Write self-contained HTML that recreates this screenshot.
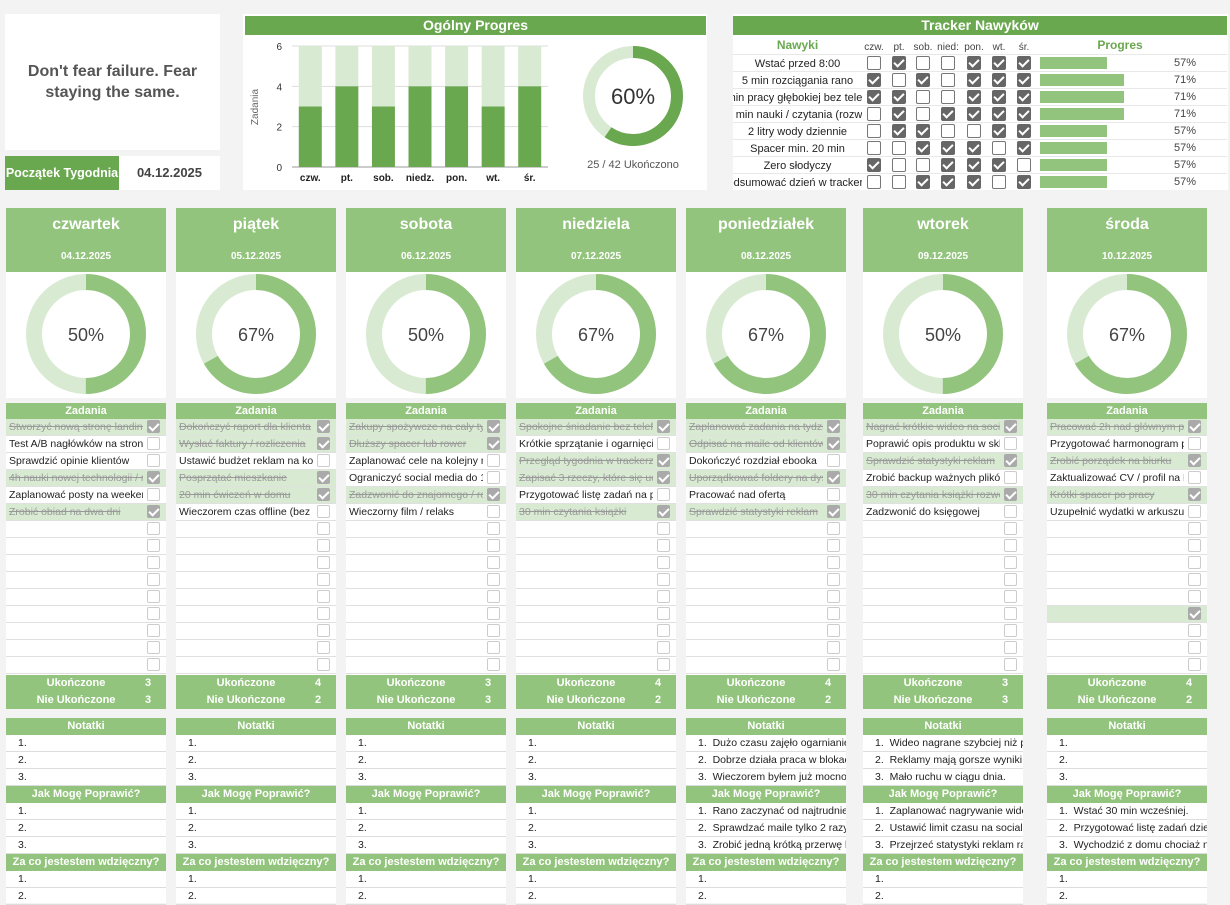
<!DOCTYPE html>
<html><head><meta charset="utf-8">
<style>
*{box-sizing:border-box}
body{margin:0;width:1230px;height:903px;background:#f3f3f3;position:relative;overflow:hidden;font-family:"Liberation Sans",Arial,sans-serif;color:#333}
.a{position:absolute}
.hdr{background:#6aa84f;color:#fff;font-weight:bold;font-size:14px;text-align:center;line-height:19px}
.lg{background:#93c47d;color:#fff;font-weight:bold;text-align:center}
.cell{display:flex;justify-content:center;align-items:center;overflow:hidden;white-space:nowrap}
.cb{position:absolute;width:14px;height:14px;border:1.5px solid #777;border-radius:2px;background:#fff}
.cb.on{background:#666;border-color:#666}
.cb.on::after{content:"";position:absolute;left:3px;top:0px;width:4px;height:8px;border:solid #fff;border-width:0 2px 2px 0;transform:rotate(45deg)}
.tcb{position:absolute;width:14px;height:14px;border:1.5px solid #ccc;border-radius:2px;background:#fff}
.tcb.on{background:#aaa;border-color:#aaa}
.tcb.on::after{content:"";position:absolute;left:3px;top:0px;width:4px;height:8px;border:solid #fff;border-width:0 2px 2px 0;transform:rotate(45deg)}
</style></head>
<body>

<div class="a" style="left:5px;top:14px;width:215px;height:136px;background:#fff;display:flex;align-items:center;justify-content:center;text-align:center;font-weight:bold;font-size:16px;color:#555;line-height:21px">Don't fear failure. Fear<br>staying the same.</div>
<div class="a" style="left:5px;top:156px;width:114px;height:34px;background:#6aa84f;color:#fff;font-weight:bold;font-size:12.5px;line-height:34px;text-align:center;white-space:nowrap;overflow:hidden">Początek Tygodnia</div>
<div class="a" style="left:119px;top:156px;width:101px;height:34px;background:#fff;color:#444;font-weight:bold;font-size:13px;line-height:34px;text-align:center">04.12.2025</div>

<div class="a" style="left:243px;top:14px;width:464px;height:176px;background:#fff"></div>
<div class="a hdr" style="left:245px;top:16px;width:461px;height:19px">Ogólny Progres</div>
<svg class="a" id="topchart" style="left:0;top:0" width="720" height="195"></svg>

<div class="a" style="left:733px;top:14px;width:495px;height:176px;background:#fff"></div>
<div class="a hdr" style="left:733px;top:16px;width:494px;height:19px">Tracker Nawyków</div>
<div id="tracker"></div>
<div id="days"></div>

<script>
// ---- overall chart data ----
const barDays=["czw.","pt.","sob.","niedz.","pon.","wt.","śr."];
const doneCounts=[3,4,3,4,4,3,4];
const totalCounts=[6,6,6,6,6,6,6];
const yTicks=[0,2,4,6];
const overallDone=25;
const overallTotal=42;

// ---- habit tracker data ----
const habitNames=["Wstać przed 8:00","5 min rozciągania rano","90 min pracy głębokiej bez telefonu","30 min nauki / czytania (rozwój)","2 litry wody dziennie","Spacer min. 20 min","Zero słodyczy","Podsumować dzień w trackerze"];
const habitDays=["czw.","pt.","sob.","nied:","pon.","wt.","śr."];
const habitChecks=[[0,1,0,0,1,1,1],[1,0,1,0,1,1,1],[1,1,0,0,1,1,1],[0,1,0,1,1,1,1],[0,1,1,0,0,1,1],[0,0,1,1,1,0,1],[1,0,0,1,1,1,0],[0,0,1,1,1,0,1]];

// ---- day data ----
const dayNames=["czwartek","piątek","sobota","niedziela","poniedziałek","wtorek","środa"];
const dayDates=["04.12.2025","05.12.2025","06.12.2025","07.12.2025","08.12.2025","09.12.2025","10.12.2025"];
const dayTasks=[
["Stworzyć nową stronę landing page","Test A/B nagłówków na stronie","Sprawdzić opinie klientów","4h nauki nowej technologii / narzędzia","Zaplanować posty na weekend","Zrobić obiad na dwa dni"],
["Dokończyć raport dla klienta","Wysłać faktury / rozliczenia","Ustawić budżet reklam na kolejny tydzień","Posprzątać mieszkanie","20 min ćwiczeń w domu","Wieczorem czas offline (bez telefonu)"],
["Zakupy spożywcze na cały tydzień","Dłuższy spacer lub rower","Zaplanować cele na kolejny miesiąc","Ograniczyć social media do 1h","Zadzwonić do znajomego / rodziny","Wieczorny film / relaks"],
["Spokojne śniadanie bez telefonu","Krótkie sprzątanie i ogarnięcie mieszkania","Przegląd tygodnia w trackerze","Zapisać 3 rzeczy, które się udały","Przygotować listę zadań na poniedziałek","30 min czytania książki"],
["Zaplanować zadania na tydzień","Odpisać na maile od klientów","Dokończyć rozdział ebooka","Uporządkować foldery na dysku","Pracować nad ofertą","Sprawdzić statystyki reklam"],
["Nagrać krótkie wideo na social media","Poprawić opis produktu w sklepie","Sprawdzić statystyki reklam","Zrobić backup ważnych plików","30 min czytania książki rozwojowej","Zadzwonić do księgowej"],
["Pracować 2h nad głównym projektem","Przygotować harmonogram postów","Zrobić porządek na biurku","Zaktualizować CV / profil na LinkedIn","Krótki spacer po pracy","Uzupełnić wydatki w arkuszu finansowym"]];
const dayDone=[
[1,0,0,1,0,1,0,0,0,0,0,0,0,0,0],
[1,1,0,1,1,0,0,0,0,0,0,0,0,0,0],
[1,1,0,0,1,0,0,0,0,0,0,0,0,0,0],
[1,0,1,1,0,1,0,0,0,0,0,0,0,0,0],
[1,1,0,1,0,1,0,0,0,0,0,0,0,0,0],
[1,0,1,0,1,0,0,0,0,0,0,0,0,0,0],
[1,0,1,0,1,0,0,0,0,0,0,1,0,0,0]];
const dayCompleted=[3,4,3,4,4,3,4];
const dayNotCompleted=[3,2,3,2,2,3,2];
const dayNotes=[[],[],[],[],
["Dużo czasu zajęło ogarnianie maili","Dobrze działa praca w blokach","Wieczorem byłem już mocno zmęczony"],
["Wideo nagrane szybciej niż planowałem","Reklamy mają gorsze wyniki niż zwykle","Mało ruchu w ciągu dnia."],[]];
const dayImprove=[[],[],[],[],
["Rano zaczynać od najtrudniejszego","Sprawdzać maile tylko 2 razy dziennie","Zrobić jedną krótką przerwę bez ekranu"],
["Zaplanować nagrywanie wideo rano","Ustawić limit czasu na social media","Przejrzeć statystyki reklam raz dziennie"],
["Wstać 30 min wcześniej.","Przygotować listę zadań dzień wcześniej","Wychodzić z domu chociaż na 20 min"]];

const NS="http://www.w3.org/2000/svg";
const svg=document.getElementById('topchart');
function s(tag,attrs){const e=document.createElementNS(NS,tag);for(const k in attrs)e.setAttribute(k,attrs[k]);svg.appendChild(e);return e;}

const px0=292,px1=548,py0=167,py1=46,yMax=6;
const band=(px1-px0)/barDays.length;
const yS=v=>py0-(v/yMax)*(py0-py1);
const xC=i=>px0+band*(i+0.5);
yTicks.forEach(t=>{
  const g=s('line',{x1:px0,x2:px1,y1:yS(t),y2:yS(t),stroke:t===0?'#999':'#ddd','stroke-width':1});
  
  
  const tx=s('text',{x:px0-10,y:yS(t)+4,'font-size':10,'text-anchor':'end',fill:'#333'});
  tx.textContent=t;
  
  
});
const yt=s('text',{x:258,y:107,'font-size':10,fill:'#666','text-anchor':'middle',transform:'rotate(-90 258 107)'});
yt.textContent='Zadania';


barDays.forEach((d,i)=>{
  const bw=23;
  const bt=s('rect',{x:xC(i)-bw/2,y:yS(totalCounts[i]),width:bw,height:yS(doneCounts[i])-yS(totalCounts[i]),fill:'#d9ead3'});
  
  
  const bd=s('rect',{x:xC(i)-bw/2,y:yS(doneCounts[i]),width:bw,height:py0-yS(doneCounts[i]),fill:'#6aa84f'});
  
  
  const lb=s('text',{x:xC(i),y:181,'font-size':10,'text-anchor':'middle',fill:'#222','font-weight':'bold'});
  lb.textContent=d;
  
  
});
(function(){
  const cx=633,cy=96,r=44,w=12,C=2*Math.PI*r,f=overallDone/overallTotal;
  const bg=s('circle',{cx,cy,r,fill:'none',stroke:'#d9ead3','stroke-width':w});
  
  
  const fg=s('circle',{cx,cy,r,fill:'none',stroke:'#6aa84f','stroke-width':w,'stroke-dasharray':(C*f)+' '+C,transform:`rotate(-90 ${cx} ${cy})`});
  
  
  const t=s('text',{x:cx,y:cy+8,'font-size':22,'text-anchor':'middle',fill:'#333'});
  t.textContent=Math.round(f*100)+'%';
  
  
  const t2=s('text',{x:cx,y:168,'font-size':11,'text-anchor':'middle',fill:'#555'});
  t2.textContent=overallDone+' / '+overallTotal+' Ukończono';
  
  
})();

const tr=document.getElementById('tracker');
function d(parent,css,cls){const e=document.createElement('div');e.className='a '+(cls||'');e.style.cssText=css;parent.appendChild(e);return e;}
const hCols=[874,899,923,948,974,999,1024];
let e=d(tr,'left:733px;top:36px;width:129px;height:18px;color:#6aa84f;font-weight:bold;font-size:12px','cell');
e.textContent='Nawyki';


habitDays.forEach((h,j)=>{
  const c=d(tr,`left:${hCols[j]-12}px;top:39px;width:24px;height:16px;font-size:10px;color:#444`,'cell');
  c.textContent=h;
  
  
});
e=d(tr,'left:1040px;top:36px;width:160px;height:18px;color:#6aa84f;font-weight:bold;font-size:12px','cell');
e.textContent='Progres';


habitNames.forEach((n,i)=>{
  const y=55+i*17;
  const line=d(tr,`left:733px;top:${y-1}px;width:494px;height:1px;background:#e8e8e8`);
  
  
  const nm=d(tr,`left:733px;top:${y}px;width:129px;height:17px;font-size:11px;color:#222`,'cell');
  nm.textContent=n;
  
  
  let cnt=0;
  habitChecks[i].forEach((v,j)=>{
    cnt+=v;
    const cb=d(tr,`left:${hCols[j]-7}px;top:${y+1}px`,'cb'+(v?' on':''));
    
    
  });
  const p=cnt/habitChecks[i].length;
  const bar=d(tr,`left:1040px;top:${y+2}px;width:${118*p}px;height:12px;background:#93c47d`);
  
  
  const pt=d(tr,`left:1160px;top:${y}px;width:36px;height:17px;font-size:11px;color:#444;text-align:right;line-height:17px`);
  pt.textContent=Math.round(p*100)+'%';
  
  
});

const days=document.getElementById('days');
const colX=[6,176,346,516,686,863,1047];
const W=160;
dayNames.forEach((name,i)=>{
  const x=colX[i];
  const h=d(days,`left:${x}px;top:208px;width:${W}px;height:64px`,'lg');
  
  
  const hn=d(h,'left:0;top:8px;width:100%;font-size:16px');
  hn.textContent=name;
  
  
  const hd=d(h,'left:0;top:43px;width:100%;font-size:10px');
  hd.textContent=dayDates[i];
  
  
  const da=d(days,`left:${x}px;top:272px;width:${W}px;height:126px;background:#fff`);
  
  
  const f=dayCompleted[i]/(dayCompleted[i]+dayNotCompleted[i]);
  const r=52,C=2*Math.PI*r;
  da.innerHTML=`<svg width="160" height="126"><circle cx="80" cy="62" r="${r}" fill="none" stroke="#d9ead3" stroke-width="16"/><circle cx="80" cy="62" r="${r}" fill="none" stroke="#93c47d" stroke-width="16" stroke-dasharray="${C*f} ${C}" transform="rotate(-90 80 62)"/><text x="80" y="69" font-size="18" text-anchor="middle" fill="#444" font-family="Liberation Sans, Arial, sans-serif">${Math.round(f*100)}%</text></svg>`;
  const tp=d(days,`left:${x}px;top:403px;width:${W}px;height:306px;background:#fff`);
  
  
  const th=d(days,`left:${x}px;top:403px;width:${W}px;height:16px;font-size:11px;line-height:16px`,'lg');
  th.textContent='Zadania';
  
  
  for(let k=0;k<15;k++){
    const y=419+k*17;
    const done=dayDone[i][k];
    const row=d(days,`left:${x}px;top:${y}px;width:${W}px;height:17px;border-bottom:1px solid #e0e0e0;background:${done?'#d9ead3':'#fff'}`);
    
    
    const txt=dayTasks[i][k]||'';
    const tt=d(row,`left:3px;top:0;width:134px;height:16px;font-size:10.5px;line-height:16px;overflow:hidden;white-space:nowrap;color:${done?'#999':'#222'};text-decoration:${done?'line-through':'none'}`);
    tt.textContent=txt;
    
    
    const cb=d(row,`left:141px;top:1px;width:13px;height:13px`,'tcb'+(done?' on':''));
    
    
  }
  [['Ukończone',dayCompleted[i],675],['Nie Ukończone',dayNotCompleted[i],692]].forEach(([lab,v,y])=>{
    const rr=d(days,`left:${x}px;top:${y}px;width:${W}px;height:17px;font-size:11px;line-height:17px`,'lg');
    
    
    const l=d(rr,'left:10px;top:0;width:120px;text-align:center');
    l.textContent=lab;
    
    
    const n=d(rr,'left:135px;top:0;width:14px;text-align:center');
    n.textContent=v;
    
    
  });
  const np=d(days,`left:${x}px;top:718px;width:${W}px;height:185px;background:#fff`);
  
  
  const sections=[['Notatki',dayNotes[i],718,3],['Jak Mogę Poprawić?',dayImprove[i],786,3],['Za co jestestem wdzięczny?',[],854,2]];
  sections.forEach(([title,items,y0,n])=>{
    const sh=d(days,`left:${x}px;top:${y0}px;width:${W}px;height:17px;font-size:11px;line-height:17px;white-space:nowrap;overflow:hidden`,'lg');
    sh.textContent=title;
    
    
    for(let k=0;k<n;k++){
      const y=y0+17+k*17;
      const ln=d(days,`left:${x}px;top:${y}px;width:${W}px;height:17px;border-bottom:1px solid #ddd;font-size:10.5px;line-height:17px;white-space:pre;overflow:hidden;color:#222;padding-left:12px`);
      ln.textContent=(k+1)+'.  '+(items[k]||'');
      
      
    }
  });
});
</script>
</body></html>
